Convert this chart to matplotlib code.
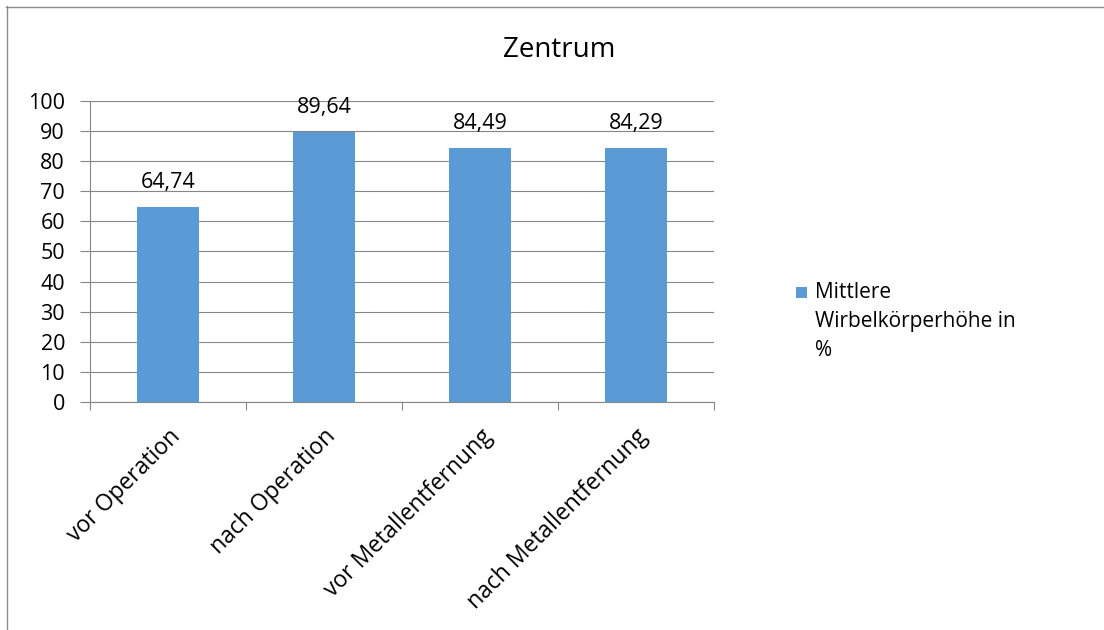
import matplotlib
matplotlib.use("Agg")
import matplotlib.pyplot as plt
from matplotlib.patches import Rectangle
from matplotlib.lines import Line2D
import numpy as np

plt.rcParams["font.family"] = ["Open Sans", "DejaVu Sans"]

categories = ["vor Operation", "nach Operation", "vor Metallentfernung", "nach Metallentfernung"]
values = [64.74, 89.64, 84.49, 84.29]
series_name = "Mittlere\nWirbelkörperhöhe in\n%"
yticks = [0, 10, 20, 30, 40, 50, 60, 70, 80, 90, 100]

bar_color = "#5B9BD5"
grid_color = "#868686"

fig = plt.figure(figsize=(11.04, 6.30), dpi=100)
ax = fig.add_axes([90 / 1104, 1 - 402 / 630, 624 / 1104, 301 / 630])

x = np.arange(len(categories))
bars = ax.bar(x, values, width=0.4, color=bar_color, zorder=3)

# value labels with decimal comma
for b, v in zip(bars, values):
    ax.annotate(f"{v:.2f}".replace(".", ","), (b.get_x() + b.get_width() / 2, v),
                xytext=(0, 10), textcoords="offset points", ha="center", va="bottom",
                fontsize=15.5, color="#000000")

ax.set_xlim(-0.5, len(categories) - 0.5)
ax.set_ylim(0, 100)
ax.set_yticks(yticks)
ax.set_yticklabels([str(t) for t in yticks], fontsize=15.5)
ax.yaxis.grid(True, color=grid_color, linewidth=0.8, zorder=0)
ax.tick_params(axis="y", length=7, width=0.8, color=grid_color, pad=11)

# category labels at centres, tick marks at boundaries
ax.set_xticks(x)
ax.set_xticklabels(categories, rotation=45, ha="right", rotation_mode="anchor", fontsize=16.5)
ax.set_xticks(np.arange(-0.5, len(categories)), minor=True)
ax.tick_params(axis="x", which="major", length=0, pad=16)
ax.tick_params(axis="x", which="minor", length=6, width=0.8, color=grid_color)

for side in ["top", "right"]:
    ax.spines[side].set_visible(False)
for side in ["left", "bottom"]:
    ax.spines[side].set_color(grid_color)
    ax.spines[side].set_linewidth(0.8)
ax.set_axisbelow(True)

fig.text(559 / 1104, 1 - 50 / 630, "Zentrum", ha="center", va="center", fontsize=20)

# legend entry
fig.patches.append(Rectangle((796 / 1104, 1 - 298 / 630), 11 / 1104, 11 / 630,
                             transform=fig.transFigure, facecolor=bar_color, edgecolor="none"))
fig.text(815 / 1104, 1 - 282 / 630, series_name, ha="left", va="top",
         fontsize=15, linespacing=1.5)

# outer frame lines (top and left)
fig.add_artist(Line2D([6 / 1104, 1], [1 - 7 / 630, 1 - 7 / 630], transform=fig.transFigure,
                      color="#8c8c8c", linewidth=1.0))
fig.add_artist(Line2D([7 / 1104, 7 / 1104], [0, 1 - 6 / 630], transform=fig.transFigure,
                      color="#8c8c8c", linewidth=1.0))

fig.savefig("out.png", dpi=100, facecolor="white")
